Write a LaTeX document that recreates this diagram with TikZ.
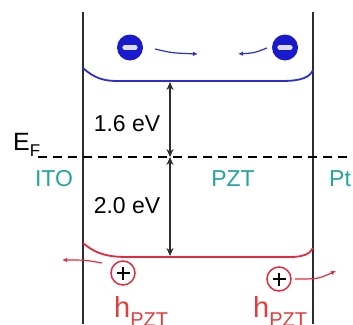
\documentclass[tikz,border=0pt]{standalone}
\usepackage{fontspec}
\setmainfont{Liberation Sans}
\usetikzlibrary{arrows.meta}
\definecolor{eblue}{RGB}{25,25,205}
\definecolor{lblue}{RGB}{45,45,215}
\definecolor{bandred}{RGB}{232,40,62}
\definecolor{tealtxt}{RGB}{35,165,155}
\definecolor{hred}{RGB}{226,62,62}
\definecolor{dgray}{RGB}{45,45,45}
\begin{document}
\begin{tikzpicture}[x=1pt,y=-1pt,
  wall/.style={dgray,line width=1.6pt},
  band/.style={line width=1.8pt},
  gap/.style={dgray,line width=1.6pt,{Stealth[length=8pt,width=7pt]}-{Stealth[length=8pt,width=7pt]}},
  lab/.style={inner sep=0pt,font=\fontsize{23}{26}\selectfont},
  electron/.style={circle,fill=eblue,minimum size=26pt,inner sep=0pt},
  hole/.style={circle,draw=bandred,line width=1.5pt,minimum size=24pt,inner sep=0pt},
  move/.style={line width=1.2pt,-{Latex[length=5pt,width=4.5pt]}}]
\clip (0,0) rectangle (353,324);
\useasboundingbox (0,0) rectangle (353,324);
% walls
\coordinate (lt) at (83,12); \coordinate (lb) at (83,324);
\coordinate (rt) at (313,12); \coordinate (rb) at (313,324);
\draw[wall] (lt) -- (lb);
\draw[wall] (rt) -- (rb);
% Fermi level
\coordinate (efl) at (38,157); \coordinate (efr) at (353,157);
\draw[line width=1.8pt,dash pattern=on 9pt off 6pt] (efl) -- (efr);
\node[inner sep=0pt,anchor=base west] (EF) at (13,150)
  {\fontsize{25}{28}\selectfont E\raisebox{-6pt}{\fontsize{17}{18}\selectfont F}};
% conduction band
\draw[band,lblue] (83,68) .. controls (95,79) and (105,81) .. (118,81) -- (282,81)
  .. controls (302,81) and (310,77) .. (313,70);
% valence band
\draw[band,bandred] (83,243) .. controls (97,255) and (110,257) .. (128,257) -- (290,257)
  .. controls (303,257) and (310,254) .. (313,248);
% gaps
\coordinate (cb) at (170,81); \coordinate (ef) at (170,157); \coordinate (vb) at (170,257);
\draw[gap,shorten <=1pt] (cb) -- (ef);
\draw[gap,shorten >=1pt] (ef) -- (vb);
\node[lab] (g1) at (127,124) {1.6 eV};
\node[lab] (g2) at (127,206) {2.0 eV};
% layer names
\node[lab,text=tealtxt] (ito) at (54,179) {ITO};
\node[lab,text=tealtxt] (pzt) at (233,179) {PZT};
\node[lab,text=tealtxt,anchor=west] (pt) at (329,179) {Pt};
% electrons
\node[electron] (e1) at (130,47.5) {};
\node[electron] (e2) at (285,47.5) {};
\foreach \e in {e1,e2}
  \draw[white!85!eblue,line width=4.2pt,line cap=round] ([xshift=-5.5pt]\e.center) -- ([xshift=5.5pt]\e.center);
\coordinate (a1) at (155,49); \coordinate (a2) at (198,54);
\coordinate (a3) at (267,48); \coordinate (a4) at (238,54);
\draw[move,lblue] (a1) .. controls (172,53) .. (a2);
\draw[move,lblue] (a3) .. controls (254,53) .. (a4);
% holes
\node[hole] (h1) at (123,273) {};
\node[hole] (h2) at (279,279) {};
\foreach \h in {h1,h2}{
  \draw[black,line width=2.8pt] ([xshift=-6.5pt]\h.center) -- ([xshift=6.5pt]\h.center);
  \draw[black,line width=2.8pt] ([yshift=-6.5pt]\h.center) -- ([yshift=6.5pt]\h.center);}
\coordinate (b1) at (102,263); \coordinate (b2) at (62,260);
\coordinate (b3) at (295,279); \coordinate (b4) at (336,271);
\draw[move,bandred] (b1) .. controls (85,260) .. (b2);
\draw[move,bandred] (b3) .. controls (318,279) .. (b4);
% hole labels
\node[inner sep=0pt,anchor=base west,text=hred] (hl1) at (114,317)
  {\fontsize{29}{30}\selectfont h\raisebox{-9pt}{\fontsize{20}{20}\selectfont PZT}};
\node[inner sep=0pt,anchor=base west,text=hred] (hl2) at (253,317)
  {\fontsize{29}{30}\selectfont h\raisebox{-9pt}{\fontsize{20}{20}\selectfont PZT}};
\end{tikzpicture}
\end{document}
